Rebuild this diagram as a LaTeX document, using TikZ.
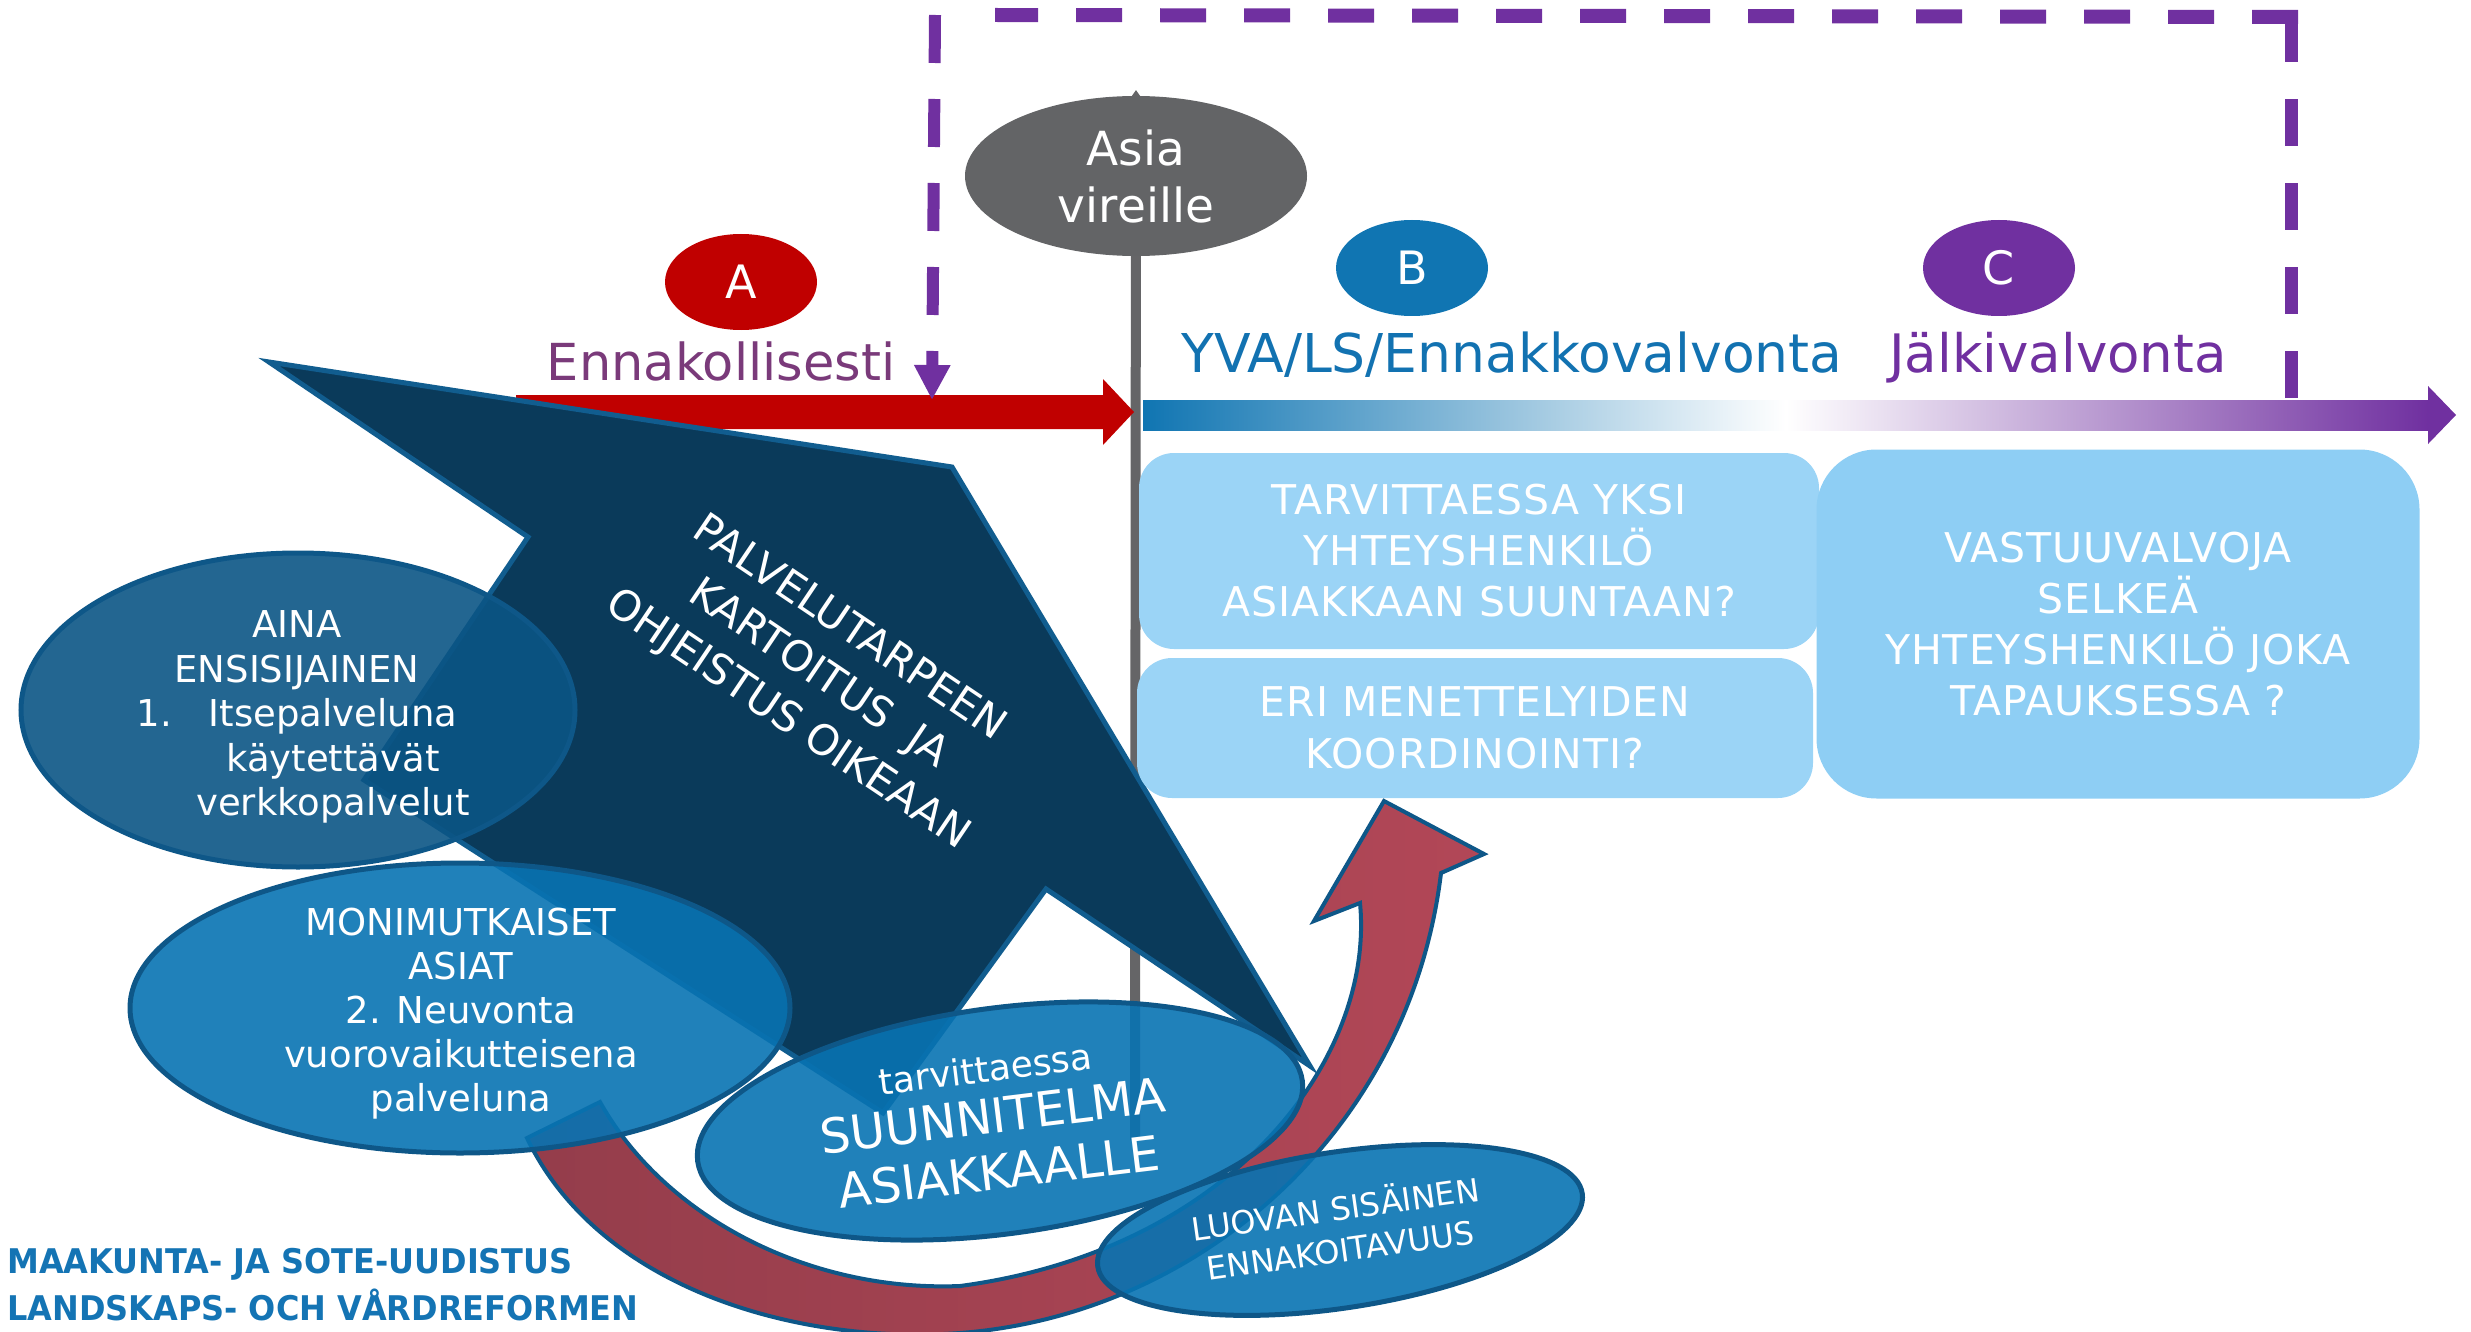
\documentclass[tikz,border=0pt]{standalone}
\usepackage{fontspec}
\setmainfont{DejaVu Sans}
\newfontfamily\condfont{DejaVu Sans}[FakeStretch=0.94]
\newfontfamily\boxfont{DejaVu Sans}[LetterSpace=2.5]
\usetikzlibrary{arrows.meta,shapes.geometric}
\definecolor{redA}{HTML}{C00000}
\definecolor{purp}{HTML}{7030A0}
\definecolor{blueB}{HTML}{1075B2}
\definecolor{grayE}{HTML}{636466}
\definecolor{grayline}{HTML}{656567}
\definecolor{ennak}{HTML}{7A3A7A}
\definecolor{yvablue}{HTML}{1272B1}
\definecolor{darkfill}{HTML}{0A3A5A}
\definecolor{darkedge}{HTML}{115D8F}
\definecolor{ellborder}{HTML}{0E5788}
\definecolor{ainafill}{HTML}{0B5585}
\definecolor{ellfill}{HTML}{0873B2}
\definecolor{boxA}{HTML}{9BD4F6}
\definecolor{boxC}{HTML}{8ECEF4}
\definecolor{arrL}{HTML}{943D4B}
\definecolor{arrR}{HTML}{B24757}
\definecolor{textblue}{HTML}{1474B4}
\newcommand\fsz[2]{\fontsize{#1}{#2}\selectfont}
\begin{document}
\begin{tikzpicture}[x=1pt,y=-1pt,
  txt/.style={inner sep=0pt, text=white},
  ell/.style={ellipse, draw=ellborder, line width=5pt, inner sep=0pt, fill opacity=0.9},
  lbox/.style={rectangle, inner sep=0pt, text=white, align=center},
  disc/.style={ellipse, inner sep=0pt, text=white, minimum width=152pt, minimum height=96pt, font=\fsz{46}{50}},
  dashline/.style={purp, line width=13pt}]
\useasboundingbox (0,0) rectangle (2471,1332);

% gray time line
\coordinate (lineTop) at (1136,90);
\coordinate (lineBot) at (1135,1140);
\draw[grayline, line width=10pt, -{Triangle[length=12pt,width=16pt]}] (lineBot) -- (lineTop);

% Asia vireille
\node[ellipse, fill=grayE, minimum width=342pt, minimum height=160pt, inner sep=0pt,
      text=white, align=center, font=\fsz{47}{57}] (asia) at (1136,176) {Asia\\vireille};

% red arrow (A)
\fill[redA] (516,395) -- (1103,395) -- (1103,379) -- (1134,412) -- (1103,445) -- (1103,429) -- (516,429) -- cycle;

% dark lightning-like arrow
\draw[fill=darkfill, draw=darkedge, line width=5pt, line join=miter]
  (269,362) -- (952,467) -- (1310,1066) -- (1046,889) -- (883,1113) -- (364,780) -- (528,537) -- cycle;
\node[txt, align=center, rotate=-34, font=\fsz{42}{55}] (palvT) at (818,675)
  {PALVELUTARPEEN\\KARTOITUS\ \ JA\\OHJEISTUS OIKEAAN};

% dashed purple frame
\draw[dashline, dash pattern=on 47pt off 37pt] (2291,398) -- (2291,15);
\draw[dashline, line width=14pt, dash pattern=on 46pt off 38pt] (2298,17) -- (995,15);
\draw[dashline, line width=12pt, dash pattern=on 48pt off 36pt, -{Triangle[length=35pt,width=34pt]}] (935,15) -- (932,400);

% gradient arrow (B -> C)
\shade[left color=blueB, right color=purp, middle color=white] (1143,400) rectangle (2428,430);
\fill[purp] (2428,386) -- (2456,415) -- (2428,444) -- cycle;

% phase discs
\node[disc, fill=redA] (cA) at (741,282) {A};
\node[disc, fill=blueB] (cB) at (1412,268) {B};
\node[disc, fill=purp] (cC) at (1999,268) {C};

% phase labels
\node[txt, text=ennak, anchor=base, font=\fsz{51}{60}] (lblA) at (721,380) {Ennakollisesti};
\node[txt, text=yvablue, anchor=base, font=\fsz{53.5}{60}] (lblB) at (1512,372) {YVA/LS/Ennakkovalvonta};
\node[txt, text=purp, anchor=base, font=\fsz{53}{60}] (lblC) at (2058,372) {Jälkivalvonta};

% light blue boxes
\node[lbox, fill=boxA, rounded corners=35pt, minimum width=680pt, minimum height=196pt, font=\boxfont\fsz{41}{51}]
  (b1) at (1479,551) {TARVITTAESSA YKSI\\YHTEYSHENKILÖ\\ASIAKKAAN SUUNTAAN?};
\node[lbox, fill=boxA, rounded corners=35pt, minimum width=676pt, minimum height=140pt, font=\boxfont\fsz{41}{52}]
  (b2) at (1475,728) {ERI MENETTELYIDEN\\KOORDINOINTI?};
\node[lbox, fill=boxC, rounded corners=60pt, minimum width=603pt, minimum height=349pt, font=\boxfont\fsz{41}{51}]
  (b3) at (2118,624) {VASTUUVALVOJA\\SELKEÄ\\YHTEYSHENKILÖ JOKA\\TAPAUKSESSA ?};

% curved red arrow
\coordinate (tailIn) at (600,1102);
\coordinate (tailOut) at (527,1138);
\coordinate (botOut) at (960,1333);
\coordinate (headOut) at (1441,873);
\coordinate (headR) at (1484,854);
\coordinate (headTip) at (1384,801);
\coordinate (headL) at (1314,921);
\coordinate (headIn) at (1360,903);
\coordinate (botIn) at (960,1286);
\draw[draw=ellborder, line width=4pt, left color=arrL, right color=arrR, line join=miter]
  (tailIn) -- (tailOut)
  .. controls (600,1290) and (800,1345) .. (botOut)
  .. controls (1200,1315) and (1410,1130) .. (headOut)
  -- (headR) -- (headTip) -- (headL) -- (headIn)
  .. controls (1375,1060) and (1230,1250) .. (botIn)
  .. controls (810,1292) and (665,1218) .. (tailIn) -- cycle;

% ellipses
\node[ell, fill=ainafill, minimum width=554pt, minimum height=314pt] (aina) at (298,710) {};
\node[ell, fill=ellfill, minimum width=660pt, minimum height=290pt] (moni) at (460,1008) {};
\node[ell, fill=ellfill, minimum width=610pt, minimum height=226pt, rotate=7.6] (suun) at (1000,1121) {};
\node[ell, fill=ellfill, minimum width=490pt, minimum height=156pt, rotate=8.6] (luov) at (1340,1230) {};

\node[txt, align=center, font=\fsz{37}{44.5}] (ainaT) at (333,717)
  {\mbox{AINA\kern72pt}\\\mbox{ENSISIJAINEN\kern72pt}\\\llap{1.\kern37pt}Itsepalveluna\\käytettävät\\verkkopalvelut};
\node[txt, align=center, font=\fsz{37}{44}] (moniT) at (461,1014)
  {MONIMUTKAISET\\ASIAT\\2. Neuvonta\\vuorovaikutteisena\\palveluna};
\node[txt, anchor=base, rotate=7, font=\fsz{36}{40}] (suunT1) at (987,1082) {tarvittaessa};
\node[txt, anchor=base, rotate=7, font=\fsz{48}{52}] (suunT2) at (995,1133) {SUUNNITELMA};
\node[txt, anchor=base, rotate=7, font=\fsz{48}{52}] (suunT3) at (1001,1189) {ASIAKKAALLE};
\node[txt, anchor=base, rotate=8, font=\fsz{32}{36}] (luovT1) at (1337,1221) {LUOVAN SISÄINEN};
\node[txt, anchor=base, rotate=8, font=\fsz{32}{36}] (luovT2) at (1342,1262) {ENNAKOITAVUUS};

% footer
\node[txt, text=textblue, anchor=base west, font=\condfont\bfseries\fsz{34}{40}] (foot1) at (7,1273) {MAAKUNTA- JA SOTE-UUDISTUS};
\node[txt, text=textblue, anchor=base west, font=\condfont\bfseries\fsz{34}{40}] (foot2) at (7,1320) {LANDSKAPS- OCH VÅRDREFORMEN};
\end{tikzpicture}
\end{document}
